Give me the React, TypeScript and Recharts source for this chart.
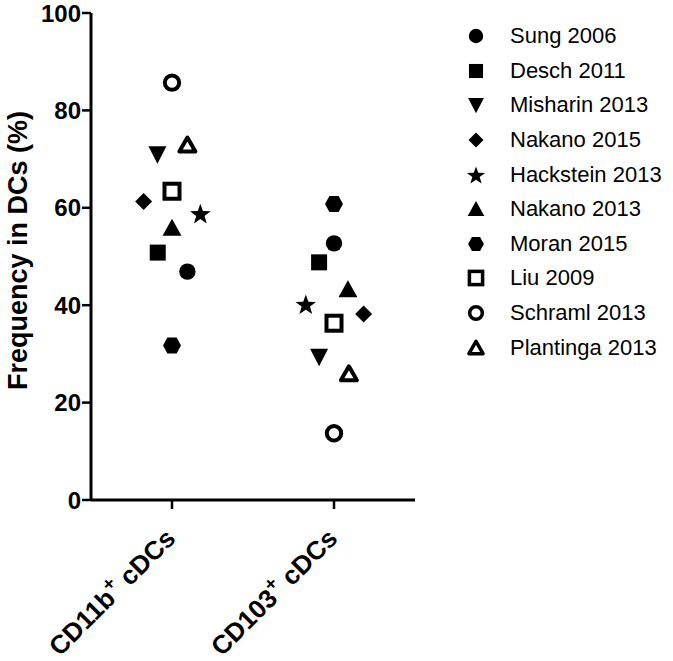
import React from 'react';
import { ScatterChart, Scatter, XAxis, YAxis, Legend } from 'recharts';

const categories = ['CD11b', 'CD103'];
const studies = [
  'Sung 2006',
  'Desch 2011',
  'Misharin 2013',
  'Nakano 2015',
  'Hackstein 2013',
  'Nakano 2013',
  'Moran 2015',
  'Liu 2009',
  'Schraml 2013',
  'Plantinga 2013',
];
const markers = [
  'circle',
  'square',
  'triangleDown',
  'diamond',
  'star',
  'triangle',
  'hexagon',
  'squareOpen',
  'circleOpen',
  'triangleOpen',
];
const cd11bValues = [46.9, 50.8, 71.0, 61.3, 58.8, 55.9, 31.7, 63.4, 85.7, 72.9];
const cd103Values = [52.7, 48.8, 29.4, 38.2, 40.2, 43.3, 60.8, 36.3, 13.7, 25.9];
const cd11bJitter = [0.095, -0.088, -0.09, -0.175, 0.175, 0, 0, 0, 0, 0.095];
const cd103Jitter = [0, -0.092, -0.092, 0.183, -0.174, 0.086, 0, 0, 0, 0.092];
const yTicks = [0, 20, 40, 60, 80, 100];
const xTicks = [1, 2];

const FONT = '"Liberation Sans", Arial, Helvetica, sans-serif';
const INK = '#000';

function Marker({ kind, cx, cy, s = 1 }: { kind: string; cx: number; cy: number; s?: number }) {
  const p = (pts: number[][]) => pts.map(([dx, dy]) => `${cx + dx * s},${cy + dy * s}`).join(' ');
  switch (kind) {
    case 'circle':
      return <circle cx={cx} cy={cy} r={8.2 * s} fill={INK} />;
    case 'square':
      return <rect x={cx - 8 * s} y={cy - 8 * s} width={16 * s} height={16 * s} fill={INK} />;
    case 'triangleDown':
      return <polygon points={p([[-9, -8], [9, -8], [0, 9.5]])} fill={INK} />;
    case 'triangle':
      return <polygon points={p([[0, -9], [9.5, 8], [-9.5, 8]])} fill={INK} />;
    case 'diamond':
      return <polygon points={p([[0, -8.5], [8.5, 0], [0, 8.5], [-8.5, 0]])} fill={INK} />;
    case 'star': {
      const pts: number[][] = [];
      for (let i = 0; i < 10; i++) {
        const r = i % 2 === 0 ? 10.8 : 4.4;
        const a = -Math.PI / 2 + (i * Math.PI) / 5;
        pts.push([r * Math.cos(a), r * Math.sin(a) + 1]);
      }
      return <polygon points={p(pts)} fill={INK} />;
    }
    case 'hexagon':
      return <polygon points={p([[-9, 0], [-4.6, -8], [4.6, -8], [9, 0], [4.6, 8], [-4.6, 8]])} fill={INK} />;
    case 'squareOpen':
      return (
        <rect
          x={cx - 7.5 * s}
          y={cy - 7.5 * s}
          width={15 * s}
          height={15 * s}
          fill="#fff"
          stroke={INK}
          strokeWidth={4 * s}
        />
      );
    case 'circleOpen':
      return <circle cx={cx} cy={cy} r={7.2 * s} fill="#fff" stroke={INK} strokeWidth={4 * s} />;
    case 'triangleOpen':
      return (
        <polygon
          points={p([[0, -7.5], [8, 6.5], [-8, 6.5]])}
          fill="#fff"
          stroke={INK}
          strokeWidth={4 * s}
          strokeLinejoin="round"
        />
      );
    default:
      return null;
  }
}

const CategoryTick = (props: any) => {
  const { x, y, payload } = props;
  const idx = payload.value === 1 ? 0 : 1;
  const ax = x + 5;
  const ay = y + 31;
  return (
    <text
      x={ax}
      y={ay}
      transform={`rotate(-45, ${ax}, ${ay})`}
      textAnchor="end"
      fontSize={26}
      fontWeight="bold"
      fontFamily={FONT}
      fill={INK}
    >
      {categories[idx]}
      <tspan fontSize={19} dy={-11}>
        +
      </tspan>
      <tspan dy={11}> cDCs</tspan>
    </text>
  );
};

const YLabel = (props: any) => {
  const vb = props.viewBox || { x: 0, y: 0, width: 0, height: 0 };
  const cx = 27;
  const cy = vb.y + vb.height / 2 - 6;
  return (
    <text
      x={cx}
      y={cy}
      transform={`rotate(-90, ${cx}, ${cy})`}
      textAnchor="middle"
      fontSize={27}
      fontWeight="bold"
      fontFamily={FONT}
      fill={INK}
    >
      Frequency in DCs (%)
    </text>
  );
};

const LegendContent = () => (
  <div style={{ fontFamily: FONT, fontSize: 22, color: INK, lineHeight: 1 }}>
    {studies.map((s, i) => (
      <div key={s} style={{ display: 'flex', alignItems: 'center', height: 34.6 }}>
        <svg width={22} height={22} style={{ display: 'block' }}>
          <Marker kind={markers[i]} cx={11} cy={11} s={0.88} />
        </svg>
        <span style={{ marginLeft: 23, whiteSpace: 'nowrap' }}>{s}</span>
      </div>
    ))}
  </div>
);

export default function App() {
  return (
    <div style={{ position: 'absolute', left: 0, top: 0, width: 673, height: 661, background: '#fff' }}>
      <ScatterChart width={673} height={661} margin={{ top: 13, right: 258, bottom: 0, left: 0 }}>
        <XAxis
          type="number"
          dataKey="x"
          domain={[0.5, 2.5]}
          ticks={xTicks}
          interval={0}
          allowDataOverflow
          height={161}
          tickSize={9}
          tickMargin={0}
          axisLine={{ stroke: INK, strokeWidth: 3 }}
          tickLine={{ stroke: INK, strokeWidth: 2.5 }}
          tick={<CategoryTick />}
        />
        <YAxis
          type="number"
          dataKey="y"
          domain={[0, 100]}
          ticks={yTicks}
          interval={0}
          width={91}
          tickSize={9}
          tickMargin={1}
          axisLine={{ stroke: INK, strokeWidth: 3 }}
          tickLine={{ stroke: INK, strokeWidth: 2.5 }}
          tick={{ fontSize: 24, fontWeight: 'bold', fill: INK, fontFamily: FONT }}
          label={<YLabel />}
        />
        <Legend
          content={<LegendContent />}
          layout="vertical"
          align="center"
          verticalAlign="middle"
          wrapperStyle={{ left: 465, top: 19, width: 208 }}
        />
        {studies.map((name, i) => (
          <Scatter
            key={name}
            name={name}
            data={[
              { x: 1 + cd11bJitter[i], y: cd11bValues[i] },
              { x: 2 + cd103Jitter[i], y: cd103Values[i] },
            ]}
            isAnimationActive={false}
            shape={(sp: any) => <Marker kind={markers[i]} cx={sp.cx} cy={sp.cy} />}
          />
        ))}
      </ScatterChart>
    </div>
  );
}
